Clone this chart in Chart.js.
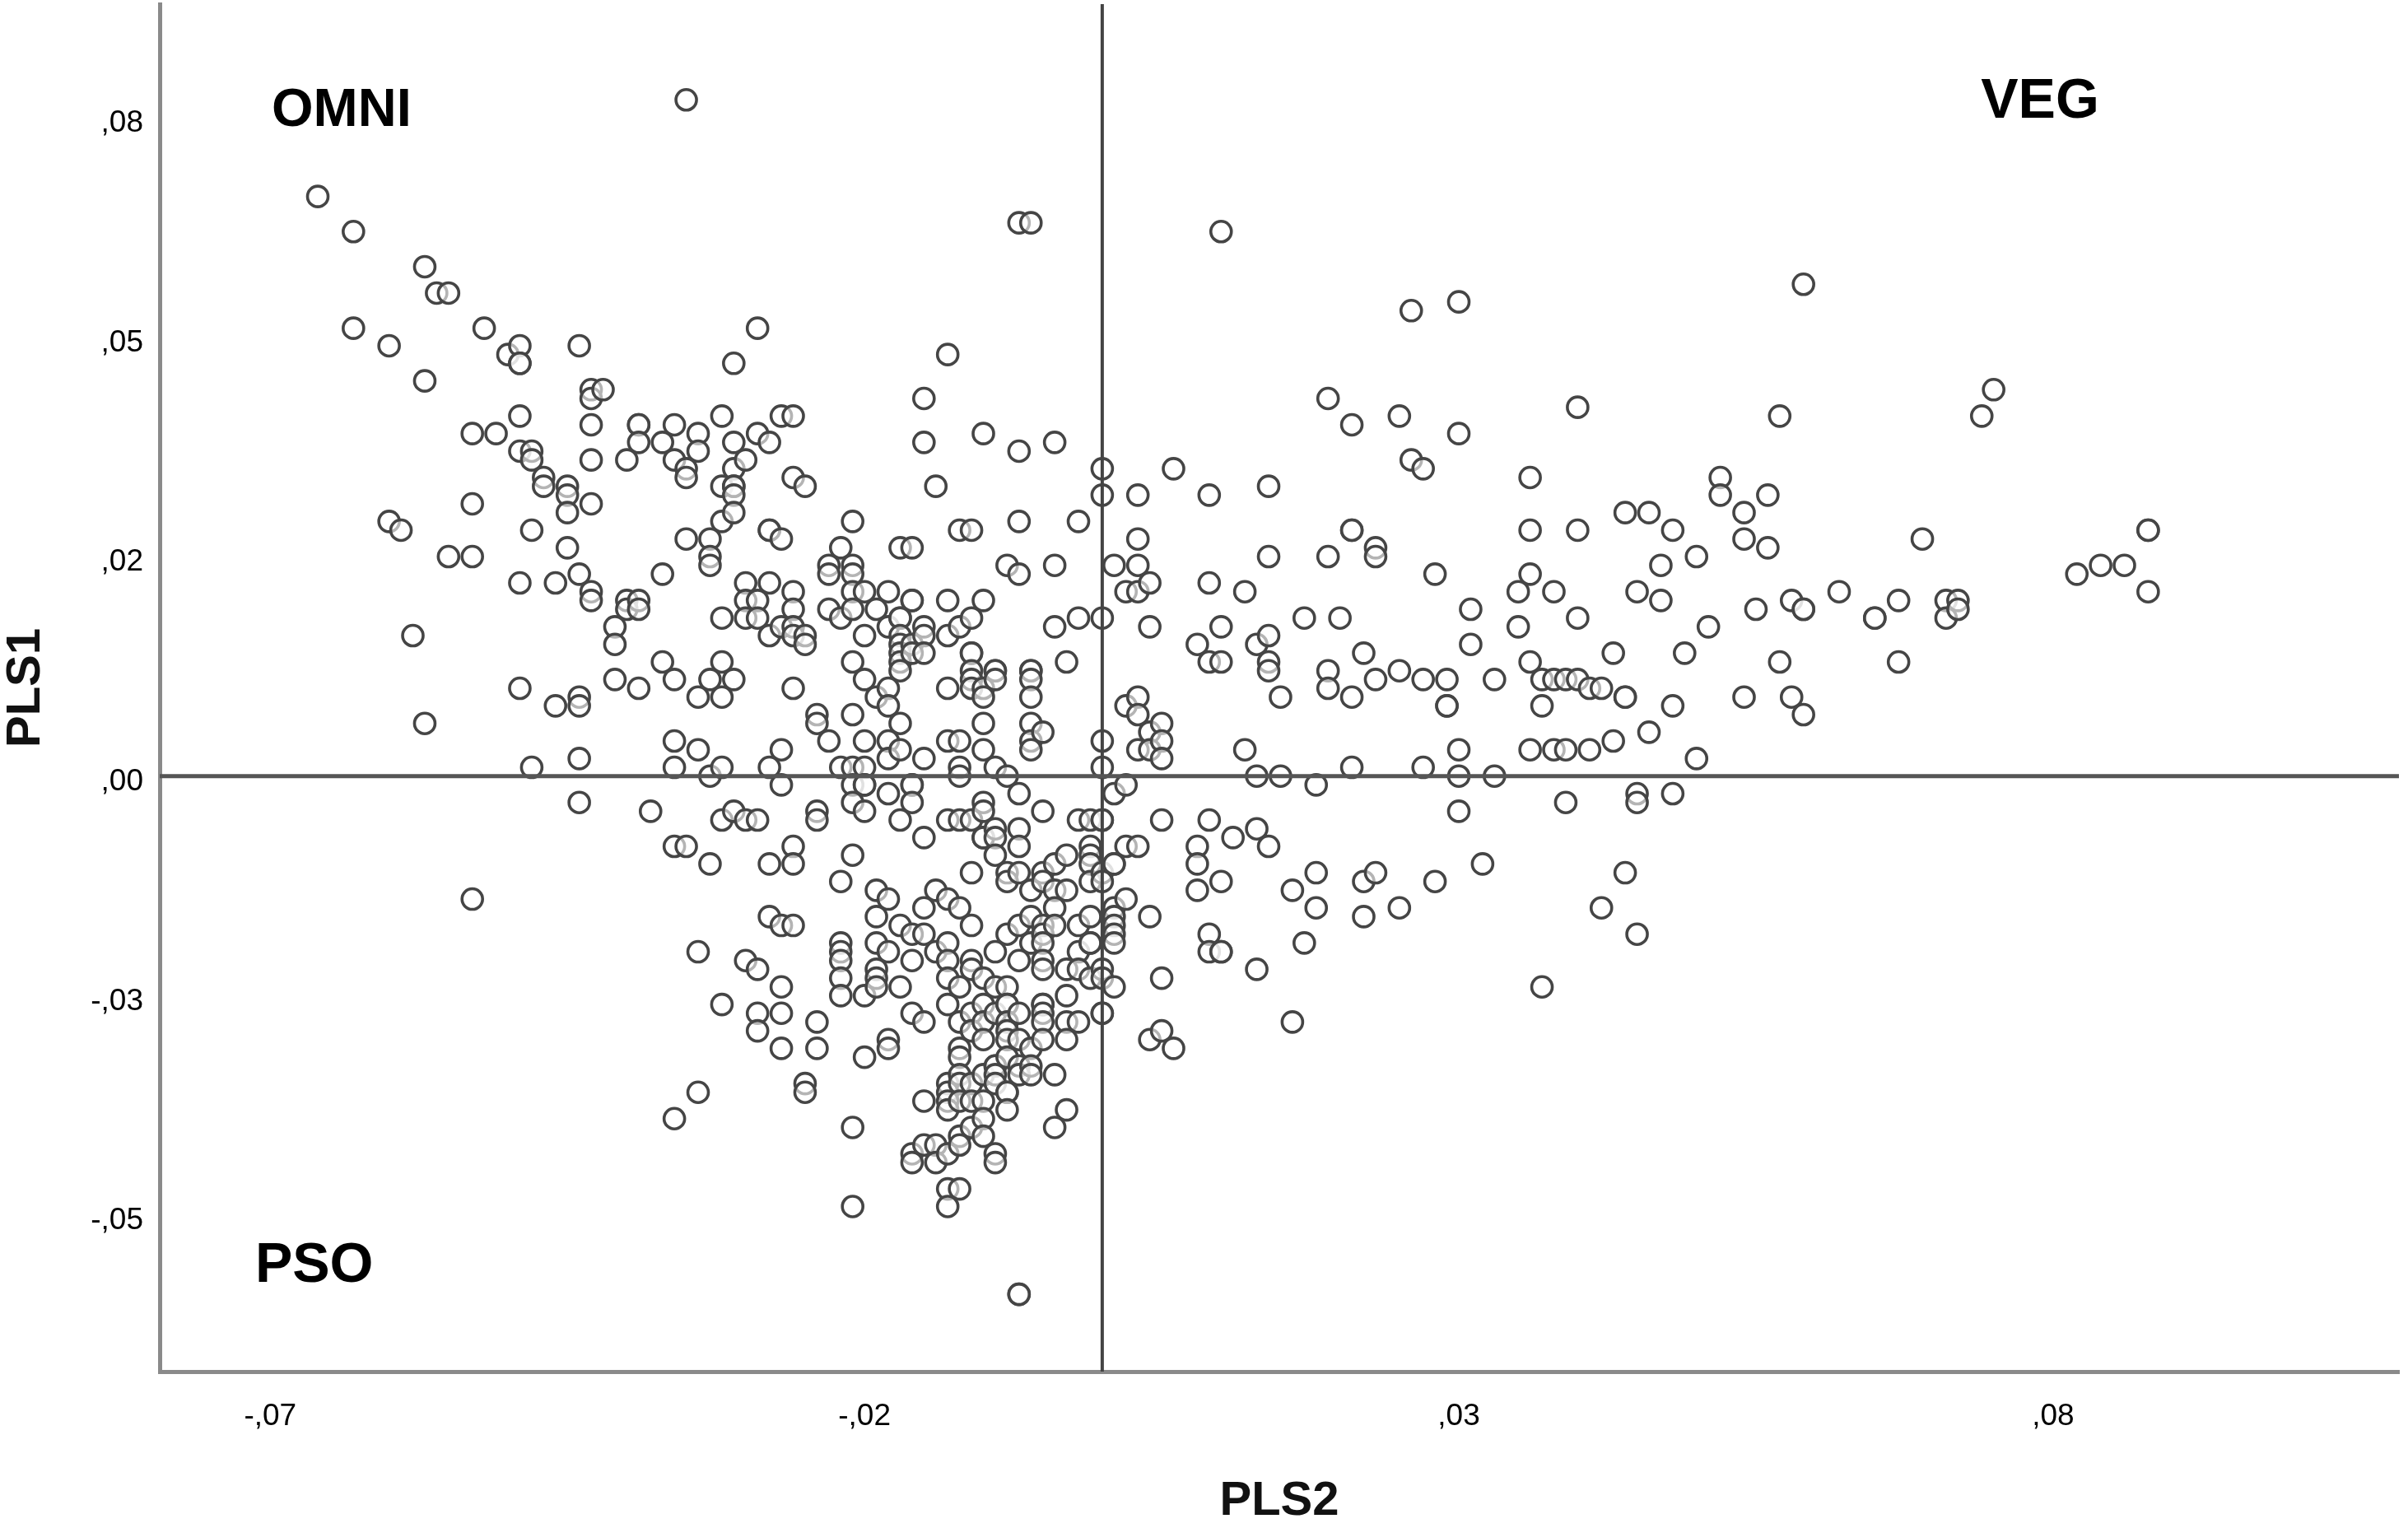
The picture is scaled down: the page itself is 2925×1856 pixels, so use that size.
<!DOCTYPE html>
<html lang="en">
<head>
<meta charset="UTF-8">
<title>PLS1 / PLS2</title>
<script src="https://cdn.jsdelivr.net/npm/chart.js"></script>
<style>
    body { margin: 0; background: #fff; }
    canvas { display: block; filter: blur(0.7px); }
</style>
</head>
<body>
<canvas id="plot" width="2925" height="1856"></canvas>
<script>
// values, in thousandths: one PLS2 column, then every PLS1 value in that column
const pls2Values = [-66,-63,-60,-59,-58,-57,-56,-55,-53,-52,-51,-50,-49,-48,-47,-46,-45,-44,-43,-42,-41,-40,-39,-38,-37,-36,-35,-34,-33,-32,-31,-30,-29,-28,-27,-26,-25,-24,-23,-22,-21,-20,-19,-18,-17,-16,-15,-14,-13,-12,-11,-10,-9,-8,-7,-6,-5,-4,-3,-2,-1,0,1,2,3,4,5,6,8,9,10,11,12,13,14,15,16,17,18,19,20,21,22,23,25,26,27,28,29,30,31,32,33,35,36,37,38,39,40,41,42,43,44,45,46,47,48,49,50,51,52,54,55,56,57,58,59,62,65,67,69,71,72,74,75,82,84,86,88];
const pls1Values = [
    [66],[62,51],[49,29],[28],[16],[58,45,6],[55],[55,25],[39,31,25,-14],[51],[39],[48],
    [49,47,47,41,37,22,10],[37,36,28,1],[34,33],[22,8],[33,32,30,26],[49,23,9,8,2,-3],
    [44,43,40,36,31,21,20],[44],[17,15,11],[36,20,19],[40,40,38,20,19,10],[-4],[38,23,13],
    [40,36,11,4,1,-8,-39],[77,35,34,27,-8],[39,37,9,3,-20,-36],[27,25,24,11,0,-10],
    [41,33,29,18,13,9,1,-5,-26],[47,38,35,33,33,32,30,11,-4],[36,22,20,18,-5,-21],
    [51,39,20,18,-5,-22,-27,-29],[38,28,28,22,16,1,-10,-16],[41,27,17,3,-1,-17,-24,-27,-31],
    [41,34,21,19,17,16,10,-8,-10,-17],[33,16,15,-35,-36],[7,6,-4,-5,-28,-31],[24,23,19,4],
    [26,18,1,-12,-19,-20,-21,-23,-25],[29,24,23,21,19,13,7,1,-1,-3,-9,-40,-49],
    [21,16,11,4,1,-1,-1,-4,-25,-32],[19,9,-13,-16,-19,-22,-23,-24],
    [21,17,10,8,4,2,-2,-14,-20,-30,-31],[26,18,18,16,15,14,13,12,6,3,-5,-17,-24],
    [26,20,20,15,14,-1,-1,-3,-18,-21,-27,-43,-44],[43,38,17,16,14,2,-7,-15,-18,-28,-37,-42],
    [33,-13,-20,-42,-44],[48,20,16,10,4,-5,-14,-19,-21,-23,-26,-35,-36,-37,-38,-43,-47,-49],
    [28,17,4,1,0,-5,-15,-24,-28,-31,-32,-34,-35,-37,-41,-42,-47],
    [28,18,14,14,12,11,10,-5,-11,-17,-21,-22,-27,-29,-35,-37,-40],
    [39,20,10,9,6,3,-3,-4,-7,-7,-23,-26,-28,-30,-34,-37,-39,-41],
    [12,12,11,1,-6,-7,-9,-20,-24,-27,-33,-33,-34,-35,-43,-44],
    [24,0,-11,-12,-18,-24,-26,-26,-28,-29,-30,-32,-36,-36,-38],
    [63,37,29,23,-2,-6,-8,-11,-17,-21,-27,-30,-33,-34,-59,-59],
    [63,12,12,11,9,6,4,3,-13,-16,-19,-31,-33,-34],
    [5,-4,-11,-12,-17,-18,-19,-21,-22,-26,-26,-27,-28,-30],
    [38,24,17,-10,-13,-15,-17,-34,-40],[13,-9,-13,-22,-25,-28,-30,-38],
    [29,18,-5,-17,-20,-22,-28],[-5,-8,-9,-10,-12,-16,-19,-19,-23],
    [35,32,18,4,1,-5,-5,-11,-12,-22,-23,-27,-27],[24,-2,-10,-10,-15,-16,-17,-18,-19,-24],
    [21,8,-1,-8,-14],[32,27,24,21,9,7,3,-8],[22,17,5,3,-16,-30],[6,4,2,-5,-23,-29],[35,-31],
    [15,-8,-10,-13],[32,22,13,-5,-18,-20],[62,17,13,-12,-20,-20],[-7],[21,3],[15,0,-6,-22],
    [33,25,16,13,12,-8],[9,0],[-13,-28],[18,-19],[-1,-11,-15],[43,25,12,10],[18],[40,28,28,9,1],
    [14,-12,-16],[26,25,11,-11],[41,12,-15],[53,36],[35,11,1],[23,-12],[11,8,8],[54,39,3,0,-4],
    [19,15],[-10],[11,0],[21,17],[34,28,23,13,3],[11,8,-24],[21,11,3],[11,3,-3],[42,28,18,11],
    [10,3],[10,-15],[14,4],[30,9,9,-11],[21,-2,-3,-18],[30,5],[24,20],[28,8,-2],[14],[25,2],[17],
    [34,32],[30,27,9],[19],[32,26],[41,13],[20,9],[56,19,19,7],[21],[18,18],[20,13],[27],[20,18],
    [20,19],[41],[44],[23],[24],[24],[28,28,21]
];

const xTickValues = [-0.07, -0.02, 0.03, 0.08];
const xTickLabels = ['-,07', '-,02', ',03', ',08'];
const yTickValues = [0.075, 0.05, 0.025, 0, -0.025, -0.05];
const yTickLabels = [',08', ',05', ',02', ',00', '-,03', '-,05'];

const xMin = -0.0793, xMax = 0.1091;
const yMin = -0.0678, yMax = 0.0879;

const points = pls2Values.flatMap((x, i) =>
    pls1Values[i].map(y => ({ x: x / 1000, y: y / 1000 })));

// OMNI / VEG / PSO corner labels, anchored in data units
const cornerLabels = {
    id: 'cornerLabels',
    afterDatasetsDraw(chart) {
        const { ctx, scales } = chart;
        ctx.save();
        ctx.fillStyle = '#000';
        ctx.textAlign = 'center';
        ctx.textBaseline = 'middle';
        ctx.font = 'bold 65px "Liberation Sans"';
        ctx.fillText('OMNI', scales.x.getPixelForValue(-0.064), scales.y.getPixelForValue(0.0757));
        ctx.font = 'bold 68px "Liberation Sans"';
        ctx.fillText('VEG', scales.x.getPixelForValue(0.0789), scales.y.getPixelForValue(0.0767));
        ctx.fillText('PSO', scales.x.getPixelForValue(-0.0663), scales.y.getPixelForValue(-0.0558));
        ctx.restore();
    }
};

const tickFont = { family: '"Liberation Sans"', size: 37 };
const titleFont = { family: '"Liberation Sans"', size: 58, weight: 'bold', lineHeight: 1 };
const axisBorder = { color: '#8a8a8a', width: 5 };

new Chart(document.getElementById('plot'), {
    type: 'scatter',
    data: {
        datasets: [
            {
                data: [{ x: xMin, y: 0 }, { x: xMax, y: 0 }],
                showLine: true, pointRadius: 0, borderColor: '#555', borderWidth: 5, order: 0
            },
            {
                data: [{ x: 0, y: yMin }, { x: 0, y: yMax }],
                showLine: true, pointRadius: 0, borderColor: '#444', borderWidth: 4, order: 0
            },
            {
                data: points,
                pointRadius: 12.5,
                pointBorderWidth: 3.6,
                pointBorderColor: '#454545',
                pointBackgroundColor: 'rgba(255,255,255,0.6)',
                order: 1
            }
        ]
    },
    options: {
        responsive: false,
        animation: false,
        layout: { autoPadding: false, padding: { top: 5, right: 11 } },
        plugins: { legend: { display: false }, tooltip: { enabled: false } },
        scales: {
            x: {
                min: xMin,
                max: xMax,
                grid: { display: false, drawTicks: false },
                border: axisBorder,
                afterFit: s => { s.height = 190; s.paddingLeft = 0; s.paddingRight = 0; },
                afterBuildTicks: s => { s.ticks = xTickValues.map(value => ({ value })); },
                ticks: {
                    autoSkip: false, maxRotation: 0, padding: 33, color: '#000', font: tickFont,
                    callback: (v, i) => xTickLabels[i]
                },
                title: { display: true, text: 'PLS2', color: '#111', font: titleFont, padding: 3 }
            },
            y: {
                min: yMin,
                max: yMax,
                grid: { display: false, drawTicks: false },
                border: axisBorder,
                afterFit: s => { s.width = 194; s.paddingTop = 0; s.paddingBottom = 0; },
                afterBuildTicks: s => { s.ticks = yTickValues.map(value => ({ value })); },
                ticks: {
                    autoSkip: false, padding: 20, labelOffset: 7, color: '#000', font: tickFont,
                    callback: (v, i) => yTickLabels[i]
                },
                title: { display: true, text: 'PLS1', color: '#111', font: titleFont, padding: 3 }
            }
        }
    },
    plugins: [cornerLabels]
});
</script>
</body>
</html>
